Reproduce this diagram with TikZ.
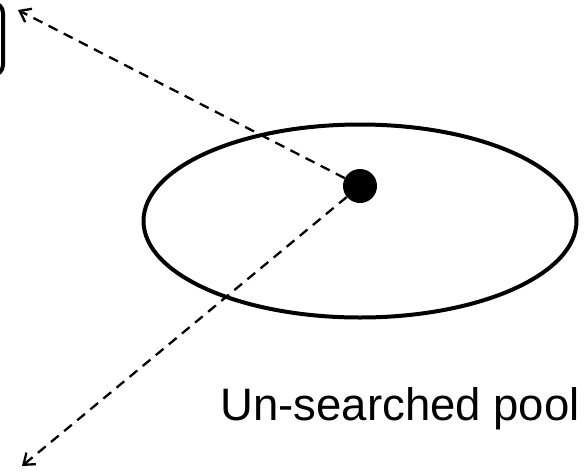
\documentclass[tikz,border=0pt]{standalone}
\usepackage{fontspec}
\setmainfont{Liberation Sans}
\usetikzlibrary{arrows.meta,shapes.geometric}
\begin{document}
\begin{tikzpicture}[x=1pt,y=-1pt,
  dasharrow/.style={draw,line width=2.3pt,dash pattern=on 10pt off 7pt,-{Straight Barb[length=10pt,width=15pt,line width=2.3pt]}},
  poolstyle/.style={draw,line width=4pt,ellipse,minimum width=433pt,minimum height=193pt},
  lbl/.style={font=\fontsize{45.5}{54}\selectfont,inner sep=0pt,anchor=base east}]
\useasboundingbox (0,0) rectangle (585,474);
\node[poolstyle] (pool) at (360,221) {};
\node[circle,fill=black,minimum size=34pt,inner sep=0pt] (dot) at (360,186) {};
\coordinate (tl) at (18,10);
\coordinate (bl) at (22,466);
\draw[dasharrow] (dot) -- (tl);
\draw[dasharrow] (dot) -- (bl);
\draw[line width=4pt,rounded corners=10pt] (-40,3) rectangle (3,75);
\node[lbl] (txt) at (580,420) {Un-searched pool};
\end{tikzpicture}
\end{document}
